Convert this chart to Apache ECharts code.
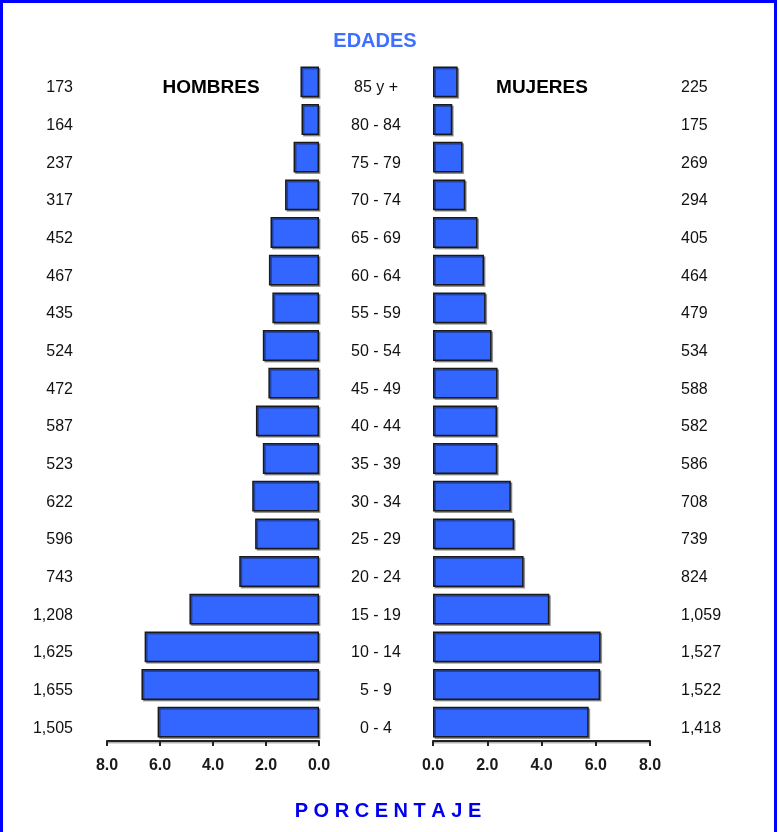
<!DOCTYPE html>
<html><head><meta charset="utf-8">
<script src="https://cdn.jsdelivr.net/npm/echarts@6/dist/echarts.min.js"></script>
<style>html,body{margin:0;padding:0;background:#fff}#c{width:780px;height:832px}</style>
</head><body><div id="c"></div>
<script>
const ageGroups = ['0 - 4','5 - 9','10 - 14','15 - 19','20 - 24','25 - 29','30 - 34','35 - 39','40 - 44','45 - 49','50 - 54','55 - 59','60 - 64','65 - 69','70 - 74','75 - 79','80 - 84','85 y +'];
const menCounts = [1505,1655,1625,1208,743,596,622,523,587,472,524,435,467,452,317,237,164,173];
const womenCounts = [1418,1522,1527,1059,824,739,708,586,582,588,534,479,464,405,294,269,175,225];
const menPct = [6.09,6.70,6.58,4.89,3.01,2.41,2.52,2.12,2.38,1.91,2.12,1.76,1.89,1.83,1.28,0.96,0.66,0.70];
const womenPct = [5.74,6.16,6.18,4.29,3.34,2.99,2.87,2.37,2.36,2.38,2.16,1.94,1.88,1.64,1.19,1.09,0.71,0.91];
const titleTop = 'EDADES';
const titleBottom = 'P O R C E N T A J E';
const leftTitle = 'HOMBRES';
const rightTitle = 'MUJERES';

const sans = "'Liberation Sans', Arial, sans-serif";
const fmtCount = v => v.toLocaleString('en-US');

const chart = echarts.init(document.getElementById('c'));
const barStyle = {
  color: '#3366ff',
  borderColor: '#1a1a1a',
  borderWidth: 1.5,
  shadowColor: 'rgba(0,0,0,0.35)',
  shadowOffsetX: 1.5,
  shadowOffsetY: 1.5,
  shadowBlur: 0
};
const xAxisCommon = {
  type: 'value', min: 0, max: 8, interval: 2,
  splitLine: { show: false },
  axisLine: { show: true, lineStyle: { color: '#222', width: 2, shadowColor: 'rgba(0,0,0,0.3)', shadowOffsetY: 1.5 } },
  axisTick: { show: true, length: 5, lineStyle: { color: '#222', width: 2 } },
  axisLabel: { color: '#1a1a1a', fontSize: 16, fontWeight: 'bold', fontFamily: sans, margin: 17, formatter: v => v.toFixed(1) }
};
const catLabel = { color: '#111', fontSize: 16, fontFamily: sans, verticalAlign: 'top', lineHeight: 12 };
chart.setOption({
  animation: false,
  grid: [
    { left: 107, width: 212, top: 63, height: 678 },
    { left: 433, width: 217, top: 63, height: 678 }
  ],
  xAxis: [
    Object.assign({ gridIndex: 0, inverse: true }, xAxisCommon),
    Object.assign({ gridIndex: 1 }, xAxisCommon)
  ],
  yAxis: [
    { type: 'category', gridIndex: 0, position: 'left', data: ageGroups,
      axisLine: { show: false }, axisTick: { show: false },
      axisLabel: Object.assign({ margin: 34, align: 'right', formatter: (v, i) => fmtCount(menCounts[i]) }, catLabel) },
    { type: 'category', gridIndex: 1, position: 'left', data: ageGroups,
      axisLine: { show: false }, axisTick: { show: false },
      axisLabel: Object.assign({ margin: 57, align: 'center' }, catLabel) },
    { type: 'category', gridIndex: 1, position: 'right', data: ageGroups,
      axisLine: { show: false }, axisTick: { show: false },
      axisLabel: Object.assign({ margin: 31, align: 'left', formatter: (v, i) => fmtCount(womenCounts[i]) }, catLabel) }
  ],
  series: [
    { type: 'bar', name: leftTitle, xAxisIndex: 0, yAxisIndex: 0, data: menPct, barCategoryGap: '18%', itemStyle: barStyle },
    { type: 'bar', name: rightTitle, xAxisIndex: 1, yAxisIndex: 1, data: womenPct, barCategoryGap: '18%', itemStyle: barStyle }
  ],
  graphic: [
    { type: 'rect', shape: { x: 1.5, y: 1.5, width: 774, height: 840 }, style: { fill: 'none', stroke: '#0000ff', lineWidth: 3 }, silent: true },
    { type: 'text', style: { text: titleTop, x: 375, y: 41, textAlign: 'center', textVerticalAlign: 'middle', align: 'center', verticalAlign: 'middle', fill: '#3f6fff', font: "bold 20px " + sans } },
    { type: 'text', style: { text: leftTitle, x: 211, y: 88, textAlign: 'center', textVerticalAlign: 'middle', align: 'center', verticalAlign: 'middle', fill: '#000', font: "bold 19px " + sans } },
    { type: 'text', style: { text: rightTitle, x: 542, y: 88, textAlign: 'center', textVerticalAlign: 'middle', align: 'center', verticalAlign: 'middle', fill: '#000', font: "bold 19px " + sans } },
    { type: 'text', style: { text: titleBottom, x: 388, y: 811, textAlign: 'center', textVerticalAlign: 'middle', align: 'center', verticalAlign: 'middle', fill: '#0000ee', font: "bold 20px " + sans } }
  ]
});
</script></body></html>
